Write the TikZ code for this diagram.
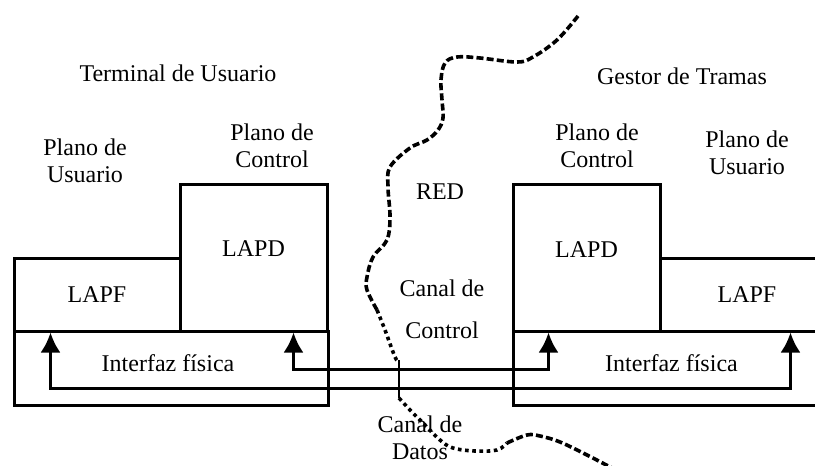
\documentclass[tikz,border=0pt]{standalone}
\usepackage{fontspec}
\setmainfont{Liberation Serif}
\usetikzlibrary{arrows.meta,positioning}
\tikzset{
  layer/.style={
    draw=black, line width=1.5pt, inner sep=0pt,
    font=\fontsize{12}{13.5}\selectfont
  },
  heading/.style={
    align=center, inner sep=0pt, font=\fontsize{12}{13.5}\selectfont
  },
  link/.style={{Latex[length=10pt,width=10pt]}-{Latex[length=10pt,width=10pt]}, line width=1.5pt},
  netline/.style={line width=1.8pt, dash pattern=on 3.5pt off 1.6pt},
  netdots/.style={line width=1.8pt, dash pattern=on 1.8pt off 1.8pt}
}

\begin{document}
\begin{tikzpicture}[x=0.5pt,y=-0.5pt]
    \useasboundingbox (0,0) rectangle (815,466);
    \clip (0,0) rectangle (815,466);
    % Terminal de Usuario
    \node[layer,minimum width=83pt,minimum height=36.5pt] (lapfL) at (97,294.5) {LAPF};
    \node[layer,minimum width=73.5pt,minimum height=73.5pt] (lapdL) at (253.5,257.5) {};
    \node[layer,minimum width=157pt,minimum height=37pt] (ifzL) at (171,368) {};
    \node[heading] (lapdLtxt) at ([yshift=4.5pt]lapdL.center) {LAPD};
    \node[heading] (ifzLtxt) at ([xshift=-1.5pt,yshift=2.5pt]ifzL.center) {Interfaz física};
    \node[heading] (termL) at (178,73) {Terminal de Usuario};
    \node[heading] (planoUL) at (85,161) {Plano de\\Usuario};
    \node[heading] (planoCL) at (272,146) {Plano de\\Control};
    % Gestor de Tramas
    \node[layer,minimum width=73.5pt,minimum height=73.5pt] (lapdR) at (586.5,257.5) {};
    \node[layer,minimum width=87pt,minimum height=36.5pt] (lapfR) at (747,294.5) {LAPF};
    \node[layer,minimum width=160.5pt,minimum height=37pt] (ifzR) at (673.5,368) {};
    \node[heading] (lapdRtxt) at ([yshift=4pt]lapdR.center) {LAPD};
    \node[heading] (ifzRtxt) at ([xshift=-1pt,yshift=2.5pt]ifzR.center) {Interfaz física};
    \node[heading] (gestR) at (682,76) {Gestor de Tramas};
    \node[heading] (planoCR) at (597,146) {Plano de\\Control};
    \node[heading] (planoUR) at (747,153) {Plano de\\Usuario};
    % RED
    \node[heading] (red) at (440,192) {RED};
    \node[heading] (canalC) at (442,309) {Canal de\\[7.5pt]Control};
    \node[heading] (canalD) at (420,438) {Canal de\\Datos};
    % canales
    \coordinate (ctlL) at ([xshift=-17.5pt]lapdL.south east);
    \coordinate (ctlR) at ([xshift=18.5pt]lapdR.south west);
    \coordinate (datL) at ([xshift=19pt]lapfL.south west);
    \coordinate (datR) at ([xshift=-22.5pt]lapfR.south east);
    \draw[link] (ctlL) -- ++(0,37) -| (ctlR);
    \draw[link] (datL) -- ++(0,56) -| (datR);
    % frontera de la red
    \draw[netline] plot[smooth,tension=0.6] coordinates {(578,16) (557,40) (533,57) (517,62) (480,58) (457,57) (445,63) (441,80) (442,100) (443,118) (438,130) (427,140) (410,148) (390,167) (388,187) (390,217) (387,240) (373,257) (367,277) (367,290) (377,310)};
    \draw[netdots] plot[smooth,tension=0.6] coordinates {(377,310) (385,330) (395,357) (399,362)};
    \draw[line width=1.2pt] (399,360) -- (399,398);
    \draw[netdots] plot[smooth,tension=0.6] coordinates {(399,398) (410,410) (423,423) (440,440) (453,448) (475,451) (497,450) (507,443)};
    \draw[netline] plot[smooth,tension=0.6] coordinates {(507,443) (527,435) (540,436) (560,442) (587,455) (612,468)};
\end{tikzpicture}
\end{document}
